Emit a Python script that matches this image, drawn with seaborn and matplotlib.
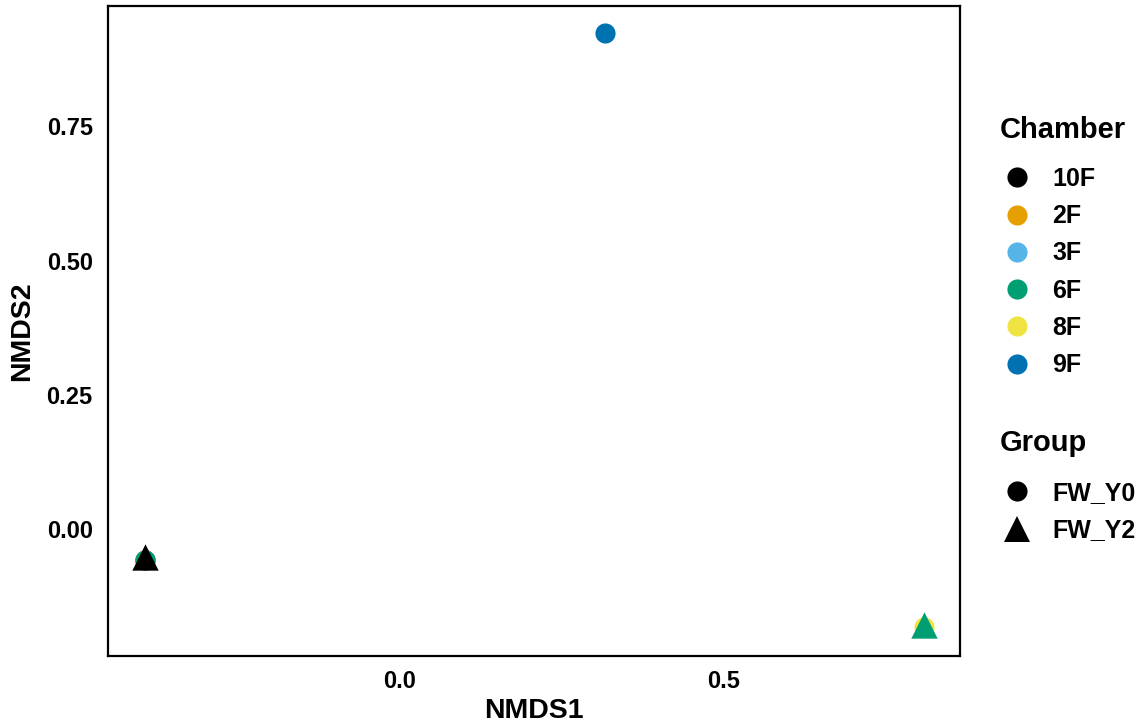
import matplotlib
matplotlib.use("Agg")
import matplotlib.pyplot as plt
from matplotlib.lines import Line2D
import seaborn as sns
import pandas as pd

# NMDS ordination scores per sample
chamber = ["10F", "2F", "3F", "6F", "10F", "9F", "8F", "6F"]
group = ["FW_Y0", "FW_Y0", "FW_Y0", "FW_Y0", "FW_Y2", "FW_Y0", "FW_Y0", "FW_Y2"]
nmds1 = [-0.394, -0.394, -0.394, -0.394, -0.394, 0.317, 0.811, 0.811]
nmds2 = [-0.057, -0.057, -0.057, -0.057, -0.052, 0.924, -0.182, -0.178]

chamber_levels = ["10F", "2F", "3F", "6F", "8F", "9F"]
chamber_colors = ["#000000", "#E69F00", "#56B4E9", "#009E73", "#F0E442", "#0072B2"]
group_levels = ["FW_Y0", "FW_Y2"]
group_markers = ["o", "^"]

df = pd.DataFrame({"NMDS1": nmds1, "NMDS2": nmds2,
                   "Chamber": chamber, "Group": group})

sns.set_style("white")
plt.rcParams["font.family"] = ["Liberation Sans", "DejaVu Sans"]
plt.rcParams["font.weight"] = "bold"
plt.rcParams["text.color"] = "black"
plt.rcParams["axes.labelcolor"] = "black"

W, H = 1148, 725
fig = plt.figure(figsize=(W / 100, H / 100), dpi=100)
ax = fig.add_axes([108 / W, 1 - 656 / H, (960 - 108) / W, (656 - 6) / H])

palette = dict(zip(chamber_levels, chamber_colors))
markers = dict(zip(group_levels, group_markers))
sizes = {"o": 210, "^": 360}

# draw sample by sample so later rows sit on top of earlier ones
for _, row in df.iterrows():
    sub = pd.DataFrame([row])
    m = markers[row["Group"]]
    sns.scatterplot(data=sub, x="NMDS1", y="NMDS2", hue="Chamber",
                    palette=palette, marker=m, s=sizes[m],
                    linewidth=0, legend=False, ax=ax)

ax.set_xlim(-0.4515, 0.866)
ax.set_ylim(-0.236, 0.974)
ax.set_xticks([0.0, 0.5])
ax.set_xticklabels(["0.0", "0.5"])
ax.set_yticks([0.0, 0.25, 0.5, 0.75])
ax.set_yticklabels(["0.00", "0.25", "0.50", "0.75"])
ax.tick_params(axis="both", direction="out", length=6, width=1.3,
               color="#333333", labelsize=17, labelcolor="black")
ax.tick_params(axis="x", pad=4)
ax.tick_params(axis="y", pad=5)
for lab in ax.get_xticklabels() + ax.get_yticklabels():
    lab.set_fontweight("bold")
for sp in ax.spines.values():
    sp.set_visible(True)
    sp.set_color("black")
    sp.set_linewidth(1.6)
ax.set_xlabel("NMDS1", fontsize=20.5, fontweight="bold", labelpad=4)
ax.set_ylabel("NMDS2", fontsize=20.5, fontweight="bold", labelpad=8)

label_prop = {"size": 18, "weight": "bold"}

# Chamber legend
fig.text(1000 / W, 1 - 130 / H, "Chamber", fontsize=21, fontweight="bold",
         ha="left", va="center")
ch_handles = [Line2D([], [], linestyle="", marker="o", markersize=14.5,
                     markerfacecolor=c, markeredgewidth=0)
              for c in chamber_colors]
fig.legend(ch_handles, chamber_levels, loc="upper left",
           bbox_to_anchor=(1000 / W, 1 - 167 / H), frameon=False,
           prop=label_prop, labelspacing=0.53, handletextpad=0.72,
           handlelength=1.36, borderpad=0, borderaxespad=0)

# Group legend
fig.text(1000 / W, 1 - 443 / H, "Group", fontsize=21, fontweight="bold",
         ha="left", va="center")
gr_handles = [Line2D([], [], linestyle="", marker=mk,
                     markersize=14.5 if mk == "o" else 19,
                     markerfacecolor="black", markeredgewidth=0)
              for mk in group_markers]
fig.legend(gr_handles, group_levels, loc="upper left",
           bbox_to_anchor=(1000 / W, 1 - 481 / H), frameon=False,
           prop=label_prop, labelspacing=0.53, handletextpad=0.72,
           handlelength=1.36, borderpad=0, borderaxespad=0)

fig.savefig("out.png", dpi=100)
